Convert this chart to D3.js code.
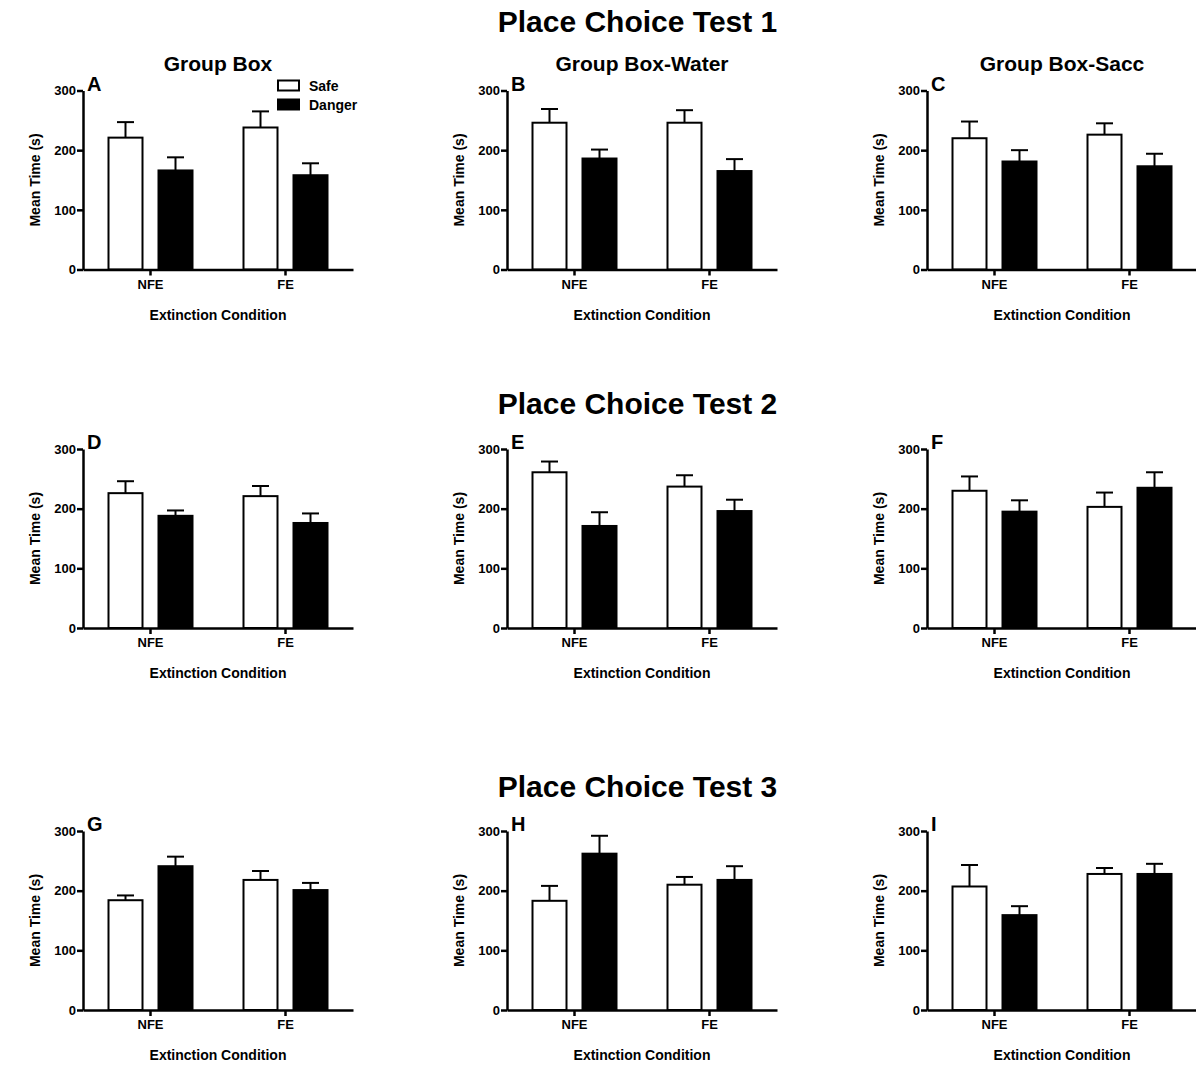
<!DOCTYPE html>
<html>
<head>
<meta charset="utf-8">
<script src="https://cdn.jsdelivr.net/npm/d3@7"></script>
<style>
  body { margin: 0; background: #fff; }
  text { font-family: "Liberation Sans", Arial, sans-serif; font-weight: bold; fill: #000; }
</style>
</head>
<body>
<svg id="fig"></svg>
<script>
// ---- data ----
var conditions = ["NFE", "FE"];
var seriesNames = ["Safe", "Danger"];
var panelLetters = ["A", "B", "C", "D", "E", "F", "G", "H", "I"];
var columnTitles = ["Group Box", "Group Box-Water", "Group Box-Sacc"];
var rowTitles = ["Place Choice Test 1", "Place Choice Test 2", "Place Choice Test 3"];
var yTicks = [0, 100, 200, 300];

// one pair [NFE, FE] per panel, A..I
var safeMean   = [[221, 238], [246, 246], [220, 226], [226, 221], [261, 237], [230, 203], [184, 218], [183, 210], [207, 228]];
var safeSem    = [[26, 27],   [23, 21],   [28, 19],   [20, 17],   [18, 19],   [24, 24],   [8, 15],    [25, 13],   [36, 10]];
var dangerMean = [[166, 158], [186, 165], [181, 173], [188, 176], [171, 196], [195, 235], [241, 201], [262, 218], [159, 228]];
var dangerSem  = [[22, 20],   [15, 20],   [19, 21],   [9, 16],    [23, 19],   [19, 26],   [16, 12],   [30, 23],   [15, 17]];

// ---- layout ----
var fig_width = 1196;
var fig_height = 1066;
var plot_w = 270;
var plot_h = 179;
var col_x = [83, 507, 927];
var row_y = [90.5, 449, 831];
var title_y = [32, 414, 797];

var svg = d3.select("#fig")
    .attr("width", fig_width)
    .attr("height", fig_height);

svg.append("rect")
    .attr("width", fig_width)
    .attr("height", fig_height)
    .attr("fill", "#fff");

rowTitles.forEach(function(t, i) {
    svg.append("text")
        .attr("x", 637.5)
        .attr("y", title_y[i])
        .attr("text-anchor", "middle")
        .style("font-size", "30px")
        .text(t);
});

columnTitles.forEach(function(t, i) {
    svg.append("text")
        .attr("x", col_x[i] + plot_w / 2)
        .attr("y", 70.5)
        .attr("text-anchor", "middle")
        .style("font-size", "21px")
        .text(t);
});

var x0 = d3.scaleBand().domain(conditions).range([0, plot_w]);
var x1 = d3.scaleBand().domain(seriesNames).range([0, x0.bandwidth()])
    .paddingInner(0.32).paddingOuter(0.51);
var y = d3.scaleLinear().domain([0, 300]).range([plot_h, 0]);

function drawPanel(p) {
    var col = p % 3, row = Math.floor(p / 3);
    var g = svg.append("g")
        .attr("transform", "translate(" + col_x[col] + "," + row_y[row] + ")");

    var rows = [];
    conditions.forEach(function(c, i) {
        rows.push({ cond: c, series: "Safe", mean: safeMean[p][i], sem: safeSem[p][i] });
        rows.push({ cond: c, series: "Danger", mean: dangerMean[p][i], sem: dangerSem[p][i] });
    });

    // error bars first (upper only), bars drawn over them
    var bw = x1.bandwidth();
    var eb = g.append("g").attr("stroke", "#000").attr("stroke-width", 2);
    rows.forEach(function(d) {
        var cx = x0(d.cond) + x1(d.series) + bw / 2;
        eb.append("line")
            .attr("x1", cx).attr("x2", cx)
            .attr("y1", y(d.mean)).attr("y2", y(d.mean + d.sem));
        eb.append("line")
            .attr("x1", cx - 8.5).attr("x2", cx + 8.5)
            .attr("y1", y(d.mean + d.sem)).attr("y2", y(d.mean + d.sem));
    });

    g.append("g")
        .selectAll("rect")
        .data(rows)
        .enter()
        .append("rect")
        .attr("x", function(d) { return x0(d.cond) + x1(d.series); })
        .attr("y", function(d) { return y(d.mean); })
        .attr("width", bw)
        .attr("height", function(d) { return plot_h - y(d.mean); })
        .attr("fill", function(d) { return d.series == "Safe" ? "#fff" : "#000"; })
        .attr("stroke", "#000")
        .attr("stroke-width", 2);

    var yAxis = g.append("g")
        .call(d3.axisLeft(y).tickValues(yTicks).tickSize(6).tickSizeOuter(0).tickPadding(1));
    var xAxis = g.append("g")
        .attr("transform", "translate(0," + plot_h + ")")
        .call(d3.axisBottom(x0).tickSize(6).tickSizeOuter(0).tickPadding(4));

    [yAxis, xAxis].forEach(function(a) {
        a.selectAll("path, line").attr("stroke", "#000").attr("stroke-width", 2.5);
        a.selectAll("text").attr("fill", "#000")
            .style("font-size", "13px")
            .style("font-family", '"Liberation Sans", Arial, sans-serif')
            .style("font-weight", "bold");
    });

    g.append("text")
        .attr("transform", "translate(-43," + (plot_h / 2) + ") rotate(-90)")
        .attr("text-anchor", "middle")
        .style("font-size", "14px")
        .text("Mean Time (s)");

    g.append("text")
        .attr("x", plot_w / 2)
        .attr("y", plot_h + 50)
        .attr("text-anchor", "middle")
        .style("font-size", "14px")
        .text("Extinction Condition");

    g.append("text")
        .attr("x", 4)
        .attr("y", 0)
        .style("font-size", "20px")
        .text(panelLetters[p]);

    // legend only on panel A
    if (p == 0) {
        var lg = g.append("g").attr("transform", "translate(195,-10)");
        seriesNames.forEach(function(s, i) {
            lg.append("rect")
                .attr("x", 0).attr("y", i * 19)
                .attr("width", 21).attr("height", 10)
                .attr("fill", s == "Safe" ? "#fff" : "#000")
                .attr("stroke", "#000").attr("stroke-width", 2);
            lg.append("text")
                .attr("x", 31).attr("y", i * 19 + 10)
                .style("font-size", "14px")
                .text(s);
        });
    }
}

for (var p = 0; p < 9; p++) drawPanel(p);
</script>
</body>
</html>
